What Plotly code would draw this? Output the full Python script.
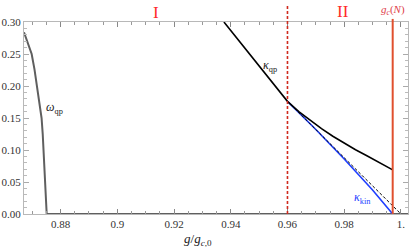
import plotly.graph_objects as go

# omega_qp (gray), drops to zero near g ~ 0.875 and stays at zero
g_omega = [0.8671, 0.8684, 0.8698, 0.8708, 0.8717, 0.8726, 0.8733, 0.8737, 0.8740, 0.8743, 0.8746, 0.8748, 0.8750, 0.8751, 1.0025]
omega_qp = [0.284, 0.268, 0.25, 0.226, 0.20, 0.175, 0.15, 0.125, 0.10, 0.075, 0.05, 0.035, 0.018, 0.0, 0.0]

# kappa_qp (black)
g_kqp = [0.9376, 0.9450, 0.9555, 0.9600, 0.9640, 0.9680, 0.9720, 0.9760, 0.9800, 0.9840, 0.9880, 0.9920, 0.9971]
kappa_qp = [0.30, 0.259, 0.2017, 0.176, 0.160, 0.146, 0.1335, 0.1215, 0.1105, 0.1005, 0.091, 0.0815, 0.069]

# linear extrapolation (black dashed)
g_lin = [0.96, 1.0]
kappa_lin = [0.176, 0.0]

# kappa_kin (blue)
g_kkin = [0.96, 0.97, 0.98, 0.99, 0.9971]
kappa_kin = [0.176, 0.132, 0.086, 0.0375, 0.0]

g_boundary = 0.96   # region I / II boundary
g_cN = 0.9971       # finite-size critical point

font_family = "Liberation Serif, Times New Roman, serif"

fig = go.Figure()
fig.add_trace(go.Scatter(x=g_omega, y=omega_qp, mode="lines",
                         line=dict(color="#5f5f5f", width=2), showlegend=False))
fig.add_trace(go.Scatter(x=g_kkin, y=kappa_kin, mode="lines",
                         line=dict(color="#1f3fff", width=1.6), showlegend=False))
fig.add_trace(go.Scatter(x=g_lin, y=kappa_lin, mode="lines",
                         line=dict(color="black", width=1, dash="3px,2px"), showlegend=False))
fig.add_trace(go.Scatter(x=g_kqp, y=kappa_qp, mode="lines",
                         line=dict(color="black", width=1.6), showlegend=False))

# vertical markers
fig.add_shape(type="line", xref="x", yref="paper", x0=g_boundary, x1=g_boundary, y0=0, y1=1.094,
              line=dict(color="#d02a1e", width=1.6, dash="3px,2px"))
fig.add_shape(type="line", xref="x", yref="paper", x0=g_cN, x1=g_cN, y0=0, y1=1.016,
              line=dict(color="#e0502e", width=2))

ann = [
    dict(x=0.878, y=0.166, xref="x", yref="y", text="<i>ω</i><sub>qp</sub>",
         font=dict(size=12, color="#222")),
    dict(x=0.9538, y=0.231, xref="x", yref="y", text="<i>κ</i><sub>qp</sub>",
         font=dict(size=12, color="#222")),
    dict(x=0.9865, y=0.025, xref="x", yref="y", text="<i>κ</i><sub>kin</sub>",
         font=dict(size=12, color="#1f3fff")),
    dict(x=0.9135, y=1.052, xref="x", yref="paper", text="I",
         font=dict(size=17, color="#ff2a2a")),
    dict(x=0.9797, y=1.057, xref="x", yref="paper", text="II",
         font=dict(size=17, color="#ff2a2a")),
    dict(x=g_cN, y=1.063, xref="x", yref="paper", text="<i>g<sub>c</sub></i>(<i>N</i>)",
         font=dict(size=11, color="#e0404a")),
    dict(x=0.9285, y=-0.135, xref="x", yref="paper", text="<i>g</i>/<i>g</i><sub><i>c</i>,0</sub>",
         font=dict(size=13, color="#222")),
]
for a in ann:
    a.update(showarrow=False, xanchor="center", yanchor="middle")
    a["font"]["family"] = font_family
    fig.add_annotation(**a)

fig.update_xaxes(range=[0.8671, 1.0025], showgrid=False, zeroline=False, automargin=False,
                 showline=True, linecolor="#b8b8b8", linewidth=1, mirror="allticks",
                 ticks="inside", ticklen=5, tickcolor="#888",
                 tickvals=[0.88, 0.9, 0.92, 0.94, 0.96, 0.98, 1.0],
                 ticktext=["0.88", "0.9", "0.92", "0.94", "0.96", "0.98", "1."],
                 minor=dict(ticks="inside", ticklen=3, tickcolor="#999", dtick=0.005, tick0=0.87),
                 tickfont=dict(family=font_family, size=11, color="#333"))
fig.update_yaxes(range=[0, 0.3], showgrid=False, zeroline=False, automargin=False,
                 showline=True, linecolor="#b8b8b8", linewidth=1, mirror="allticks",
                 ticks="inside", ticklen=5, tickcolor="#aaa", ticklabelstandoff=0,
                 tickvals=[0, 0.05, 0.1, 0.15, 0.2, 0.25, 0.3], tickformat=".2f",
                 minor=dict(ticks="inside", ticklen=3, tickcolor="#bbb", dtick=0.01),
                 tickfont=dict(family=font_family, size=11, color="#333"))
fig.update_layout(width=415, height=252, margin=dict(l=24, r=7, t=22, b=38),
                  plot_bgcolor="white", paper_bgcolor="white",
                  font=dict(family=font_family))

fig.write_html("out.html", config={"displayModeBar": False},
               post_script="document.body.style.margin='0';")
